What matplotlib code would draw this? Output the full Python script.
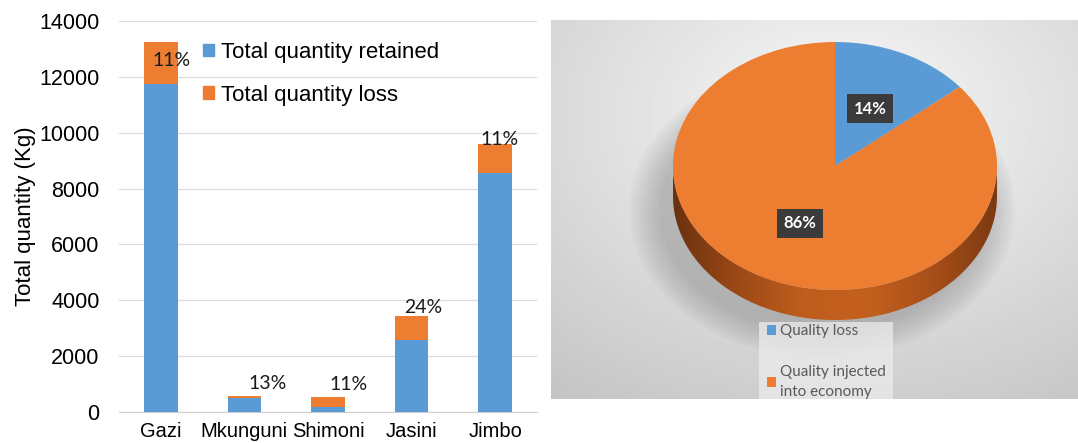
import numpy as np
import matplotlib.pyplot as plt
from matplotlib.patches import Patch, Polygon, Ellipse, Rectangle
from matplotlib.colors import LinearSegmentedColormap

# Bar chart data
sites = ["Gazi", "Mkunguni", "Shimoni", "Jasini", "Jimbo"]
retained = [11750, 515, 190, 2580, 8550]
total = [13250, 590, 530, 3440, 9590]
loss_pct = [11, 13, 11, 24, 11]

# Pie chart data
pie_labels = ["Quality loss", "Quality injected\ninto economy"]
pie_values = [14, 86]

BLUE = "#5b9bd5"
ORANGE = "#ed7d31"

# label nudges (points) relative to the top of each bar
label_offsets = [(8, -13), (17, 9), (15, 9), (8, 6), (3, 3)]

fig = plt.figure(figsize=(10.78, 4.43), dpi=100)

# ---- stacked bars ----
ax = fig.add_axes([119 / 1078, 31 / 443, 418 / 1078, 391 / 443])
x = np.arange(len(sites))
loss = [t - r for t, r in zip(total, retained)]
ax.bar(x, retained, width=0.4, color=BLUE, zorder=3, label="Total quantity retained")
ax.bar(x, loss, width=0.4, bottom=retained, color=ORANGE, zorder=3, label="Total quantity loss")

for xi, top, pct, (dx, dy) in zip(x, total, loss_pct, label_offsets):
    ax.annotate(f"{pct}%", (xi, top), xytext=(dx, dy), textcoords="offset points",
                ha="center", va="center", fontsize=14, family="Lato", color="#1a1a1a", zorder=5)

ax.set_xlim(-0.5, len(sites) - 0.5)
ax.set_ylim(0, 14000)
ax.set_yticks(range(0, 14001, 2000))
ax.set_xticks(x)
ax.set_xticklabels(sites, fontsize=14.5, family="Liberation Sans")
ax.tick_params(axis="y", labelsize=15.5, length=0, pad=14)
ax.tick_params(axis="x", length=0, pad=7)
for lbl in ax.get_yticklabels():
    lbl.set_family("Liberation Sans")
ax.grid(axis="y", color="#dcdcdc", lw=0.9, zorder=0)
for s in ["top", "right", "left"]:
    ax.spines[s].set_visible(False)
ax.spines["bottom"].set_color("#d0d0d0")
ax.set_ylabel("Total quantity (Kg)", fontsize=16, family="Liberation Sans", labelpad=2)

handles = [Patch(color=BLUE), Patch(color=ORANGE)]
ax.legend(handles, ["Total quantity retained", "Total quantity loss"], loc="upper left",
          bbox_to_anchor=(0.2, 0.947), frameon=False, borderpad=0, borderaxespad=0,
          handlelength=0.5, handleheight=0.5, handletextpad=0.35, labelspacing=0.98,
          prop={"family": "Liberation Sans", "size": 16})

# ---- 3D-style pie ----
ax2 = fig.add_axes([551 / 1078, 44 / 443, 527 / 1078, 379 / 443])
rx, ry = 162, 124
xl = (-284 / rx, (527 - 284) / rx)
yl = (-233 / ry, 146 / ry)

# background gradient
gx, gy = np.meshgrid(np.linspace(0, 1, 300), np.linspace(0, 1, 220))
r = np.sqrt(((gx - 0.55) / 0.9) ** 2 + ((gy - 0.25) / 0.9) ** 2)
bg = np.clip(0.975 - 0.2 * r, 0.76, 0.98)
ax2.imshow(bg, cmap="gray", vmin=0, vmax=1, extent=(xl[0], xl[1], yl[0], yl[1]),
           origin="upper", aspect="auto", zorder=0)

depth = 30 / ry
# soft shadow, mostly down and to the left
for k in range(12):
    ax2.add_patch(Ellipse((-0.08, -0.36), 2.0 + k * 0.035, 1.95 + k * 0.04,
                          fc="#707070", ec="none", alpha=0.035, zorder=1))

# cylinder side
t = np.linspace(np.pi, 2 * np.pi, 200)
side_pts = np.vstack([np.column_stack([np.cos(t), np.sin(t)]),
                      np.column_stack([np.cos(t[::-1]), np.sin(t[::-1]) - depth])])
side = Polygon(side_pts, closed=True, fc="none", ec="none", zorder=2)
ax2.add_patch(side)
side_cmap = LinearSegmentedColormap.from_list(
    "side", ["#6a3210", "#9c4916", "#bf5d1d", "#c4601e", "#a84f18", "#7c3a12"])
grad = np.linspace(0, 1, 256)[None, :]
im = ax2.imshow(grad, cmap=side_cmap, extent=(-1, 1, -1 - depth, 0),
                aspect="auto", zorder=2)
im.set_clip_path(side)

wedges, texts, autotexts = ax2.pie(
    pie_values, colors=[BLUE, ORANGE], startangle=90, counterclock=False,
    autopct="%1.0f%%", pctdistance=0.51, wedgeprops={"linewidth": 0, "zorder": 3})
for w in wedges:
    w.set_zorder(3)
for at in autotexts:
    at.set(color="white", fontsize=12, fontweight="bold", family="Lato", zorder=6)
    at.set_bbox(dict(boxstyle="square,pad=0.4", fc="#3b3b3b", ec="none"))

ax2.set_aspect("auto")
ax2.set_xlim(*xl)
ax2.set_ylim(*yl)
ax2.axis("off")

# legend panel
ax2.add_patch(Rectangle((0.395, 0), 0.254, 0.203, transform=ax2.transAxes,
                        fc="#ececec", ec="none", alpha=0.75, zorder=4))
leg = ax2.legend(wedges, pie_labels, loc="upper left", bbox_to_anchor=(0.41, 0.197),
                 frameon=False, borderpad=0, borderaxespad=0,
                 handlelength=0.57, handleheight=0.57, handletextpad=0.3, labelspacing=1.75,
                 prop={"family": "Lato", "size": 11})
leg.set_zorder(5)
for txt in leg.get_texts():
    txt.set_color("#595959")
    txt.set_linespacing(1.55)

fig.savefig("out.png", dpi=100)
